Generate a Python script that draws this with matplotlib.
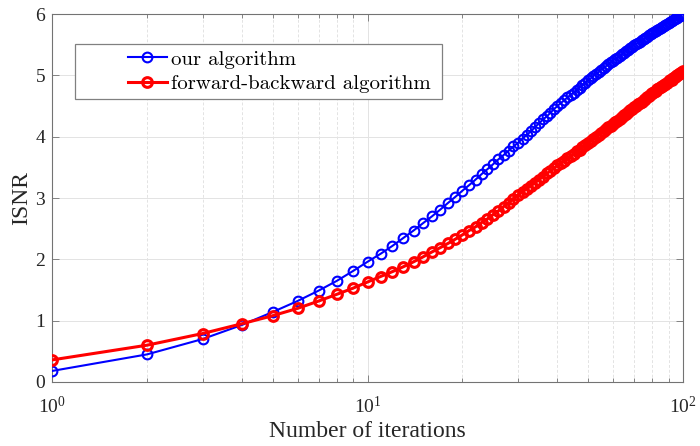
import matplotlib
matplotlib.use('Agg')
import matplotlib.pyplot as plt
from matplotlib.patches import Rectangle
import numpy as np

# iterations 1..100
iterations = list(range(1, 101))

our_isnr = [
    0.18, 0.45, 0.70, 0.93, 1.14, 1.32, 1.49, 1.65, 1.81, 1.96,
    2.09, 2.22, 2.35, 2.47, 2.59, 2.70, 2.81, 2.92, 3.02, 3.12,
    3.21, 3.30, 3.39, 3.47, 3.55, 3.63, 3.70, 3.77, 3.84, 3.90,
    3.97, 4.03, 4.09, 4.16, 4.22, 4.28, 4.33, 4.39, 4.45, 4.50,
    4.55, 4.59, 4.64, 4.68, 4.72, 4.76, 4.80, 4.84, 4.88, 4.92,
    4.95, 4.99, 5.02, 5.05, 5.09, 5.12, 5.15, 5.18, 5.21, 5.24,
    5.27, 5.29, 5.32, 5.34, 5.37, 5.39, 5.42, 5.44, 5.47, 5.49,
    5.51, 5.53, 5.55, 5.57, 5.59, 5.61, 5.63, 5.65, 5.67, 5.69,
    5.71, 5.72, 5.74, 5.76, 5.77, 5.79, 5.81, 5.82, 5.84, 5.86,
    5.87, 5.89, 5.90, 5.92, 5.93, 5.94, 5.96, 5.97, 5.99, 6.00,
]

fb_isnr = [
    0.36, 0.60, 0.79, 0.95, 1.08, 1.20, 1.32, 1.43, 1.53, 1.63,
    1.72, 1.80, 1.88, 1.96, 2.04, 2.12, 2.19, 2.26, 2.33, 2.40,
    2.47, 2.53, 2.60, 2.66, 2.73, 2.79, 2.86, 2.92, 2.99, 3.05,
    3.10, 3.15, 3.20, 3.25, 3.30, 3.35, 3.40, 3.44, 3.49, 3.53,
    3.57, 3.61, 3.65, 3.68, 3.72, 3.76, 3.79, 3.83, 3.86, 3.90,
    3.93, 3.96, 3.99, 4.03, 4.06, 4.09, 4.12, 4.15, 4.18, 4.21,
    4.24, 4.26, 4.29, 4.32, 4.35, 4.37, 4.40, 4.43, 4.45, 4.48,
    4.50, 4.53, 4.55, 4.57, 4.60, 4.62, 4.64, 4.66, 4.69, 4.71,
    4.73, 4.75, 4.77, 4.79, 4.81, 4.82, 4.84, 4.86, 4.88, 4.90,
    4.92, 4.93, 4.95, 4.97, 4.99, 5.00, 5.02, 5.04, 5.05, 5.07,
]

labels = ['our algorithm', 'forward-backward algorithm']
y_ticks = [0, 1, 2, 3, 4, 5, 6]

plt.rcParams['font.family'] = ['Liberation Serif', 'DejaVu Serif']
plt.rcParams['mathtext.fontset'] = 'custom'
plt.rcParams['mathtext.rm'] = 'Liberation Serif'

fig = plt.figure(figsize=(7, 4.46), dpi=100)
ax = fig.add_axes([0.0743, 0.1435, 0.9014, 0.8251])

ax.plot(iterations, our_isnr, '-o', color='#0000ff', lw=1.5, ms=7,
        mfc='none', mew=1.5, label=labels[0], zorder=3)
ax.plot(iterations, fb_isnr, '-o', color='#ff0000', lw=2.2, ms=7,
        mfc='none', mew=2.2, label=labels[1], zorder=3)

ax.set_xscale('log')
ax.set_xlim(1, 100)
ax.set_ylim(0, 6)
ax.set_yticks(y_ticks)

ax.grid(True, which='major', color='#e3e3e3', lw=0.7, ls='-')
ax.grid(True, which='minor', axis='x', color='#e3e3e3', lw=0.7, ls=(0, (3, 2)))
ax.set_axisbelow(True)

ax.tick_params(which='both', direction='in', top=True, right=True,
               colors='0.45', labelcolor='#262626', labelsize=14)
ax.tick_params(which='major', length=5, width=0.6)
ax.tick_params(which='minor', length=3, width=0.6)
ax.tick_params(axis='x', pad=10)
ax.tick_params(axis='y', pad=5)
for s in ax.spines.values():
    s.set_color('0.45')
    s.set_linewidth(0.8)

ax.set_xlabel('Number of iterations', fontsize=17, color='#262626', labelpad=3)
ax.set_ylabel('ISNR', fontsize=17, color='#262626', labelpad=2)

# legend: MATLAB-style box with empty space on the left
ax.add_patch(Rectangle((75, 446 - 99), 367, 55, transform=None, fill=True,
                       facecolor='white', edgecolor='0.5', lw=0.9, zorder=5))
leg = ax.legend(loc='upper left', bbox_to_anchor=(0.09, 0.953), frameon=False,
                handlelength=1.9, handletextpad=0.2, labelspacing=0.3,
                prop={'family': 'cmr10', 'size': 15})
leg.set_zorder(6)

fig.savefig('out.png', dpi=100)
